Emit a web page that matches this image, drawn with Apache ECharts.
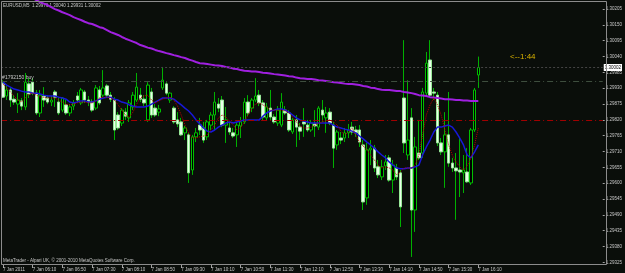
<!DOCTYPE html>
<html>
<head>
<meta charset="utf-8">
<title>EURUSD,M5</title>
<script src="https://cdn.jsdelivr.net/npm/echarts@6.0.0/dist/echarts.min.js"></script>
<style>
html, body { margin: 0; padding: 0; background: #0a0e0a; }
#chart { width: 625px; height: 273px; }
</style>
</head>
<body>
<div id="chart"></div>
<script>
// EURUSD M5 bars (one value per bar, 7 Jan 2011 05:30 .. 16:10)
const opens = [
  1.29948, 1.29903, 1.29924, 1.29892, 1.29875, 1.29886, 1.29865, 1.29945, 1.29951, 1.29913,
  1.29844, 1.29903, 1.29896, 1.29882, 1.29917, 1.29882, 1.29854, 1.29872, 1.29844, 1.29868,
  1.29903, 1.29879, 1.29917, 1.29889, 1.29882, 1.29861, 1.29924, 1.29906, 1.29938, 1.29906,
  1.29889, 1.29837, 1.29809, 1.29847, 1.29827, 1.29865, 1.29889, 1.29906, 1.29892, 1.29820,
  1.29917, 1.29861, 1.29847, 1.29931, 1.29945, 1.29889, 1.29861, 1.29820, 1.29813, 1.29775,
  1.29768, 1.29646, 1.29761, 1.29802, 1.29792, 1.29761, 1.29802, 1.29837, 1.29875, 1.29889,
  1.29802, 1.29792, 1.29775, 1.29768, 1.29799, 1.29813, 1.29882, 1.29861, 1.29889, 1.29906,
  1.29879, 1.29827, 1.29861, 1.29830, 1.29809, 1.29802, 1.29854, 1.29844, 1.29778, 1.29820,
  1.29795, 1.29813, 1.29802, 1.29785, 1.29806, 1.29795, 1.29854, 1.29827, 1.29847, 1.29802,
  1.29733, 1.29757, 1.29757, 1.29775, 1.29795, 1.29785, 1.29785, 1.29733, 1.29549, 1.29716,
  1.29722, 1.29657, 1.29622, 1.29660, 1.29688, 1.29611, 1.29653, 1.29636, 1.29896, 1.29698,
  1.29827, 1.29507, 1.29705, 1.29705, 1.29913, 1.30028, 1.29917, 1.29906, 1.29740, 1.29709,
  1.29768, 1.29670, 1.29653, 1.29646, 1.29636, 1.29639, 1.29601, 1.29785, 1.29976
];
const highs = [
  1.29958, 1.29938, 1.29934, 1.29906, 1.29913, 1.29896, 1.29983, 1.29965, 1.29965, 1.29924,
  1.29924, 1.29934, 1.29906, 1.29903, 1.29924, 1.29896, 1.29899, 1.29889, 1.29875, 1.29889,
  1.29917, 1.29931, 1.29924, 1.29903, 1.29892, 1.29941, 1.29938, 1.29993, 1.29945, 1.29917,
  1.29899, 1.29847, 1.29861, 1.29861, 1.29889, 1.29917, 1.29983, 1.29931, 1.29906, 1.29951,
  1.29931, 1.29875, 1.29872, 1.30004, 1.29951, 1.29917, 1.29868, 1.29847, 1.29827, 1.29799,
  1.29775, 1.29768, 1.29792, 1.29827, 1.29813, 1.29820, 1.29847, 1.29917, 1.29896, 1.29903,
  1.29865, 1.29813, 1.29792, 1.29813, 1.29830, 1.29896, 1.29906, 1.29896, 1.29965, 1.29924,
  1.29889, 1.29879, 1.29924, 1.29840, 1.29868, 1.29913, 1.29868, 1.29854, 1.29827, 1.29837,
  1.29809, 1.29861, 1.29820, 1.29820, 1.29854, 1.29868, 1.29889, 1.29865, 1.29861, 1.29813,
  1.29785, 1.29778, 1.29792, 1.29806, 1.29813, 1.29799, 1.29802, 1.29750, 1.29740, 1.29750,
  1.29733, 1.29681, 1.29681, 1.29698, 1.29698, 1.29681, 1.29667, 1.29646, 1.30097, 1.29958,
  1.29861, 1.29761, 1.29820, 1.29931, 1.30056, 1.30097, 1.29931, 1.29917, 1.29757, 1.29847,
  1.29917, 1.29688, 1.29705, 1.29761, 1.29698, 1.29722, 1.29792, 1.29931, 1.30040
];
const lows = [
  1.29896, 1.29889, 1.29865, 1.29872, 1.29844, 1.29854, 1.29854, 1.29896, 1.29906, 1.29837,
  1.29830, 1.29865, 1.29875, 1.29868, 1.29865, 1.29837, 1.29847, 1.29837, 1.29833, 1.29854,
  1.29879, 1.29872, 1.29879, 1.29868, 1.29847, 1.29854, 1.29872, 1.29899, 1.29899, 1.29882,
  1.29750, 1.29785, 1.29799, 1.29820, 1.29813, 1.29854, 1.29882, 1.29882, 1.29868, 1.29813,
  1.29827, 1.29830, 1.29833, 1.29924, 1.29906, 1.29879, 1.29806, 1.29795, 1.29764, 1.29750,
  1.29601, 1.29629, 1.29743, 1.29768, 1.29740, 1.29750, 1.29785, 1.29785, 1.29847, 1.29795,
  1.29740, 1.29768, 1.29757, 1.29726, 1.29757, 1.29806, 1.29833, 1.29847, 1.29882, 1.29868,
  1.29820, 1.29816, 1.29820, 1.29806, 1.29799, 1.29795, 1.29837, 1.29778, 1.29771, 1.29726,
  1.29750, 1.29761, 1.29778, 1.29778, 1.29761, 1.29785, 1.29813, 1.29775, 1.29802, 1.29653,
  1.29716, 1.29736, 1.29743, 1.29757, 1.29768, 1.29761, 1.29726, 1.29507, 1.29525, 1.29663,
  1.29639, 1.29618, 1.29611, 1.29646, 1.29605, 1.29566, 1.29611, 1.29448, 1.29705, 1.29681,
  1.29344, 1.29431, 1.29681, 1.29688, 1.29906, 1.29899, 1.29889, 1.29729, 1.29698, 1.29584,
  1.29657, 1.29639, 1.29473, 1.29552, 1.29566, 1.29601, 1.29594, 1.29778, 1.29931
];
const closes = [
  1.29899, 1.29924, 1.29889, 1.29882, 1.29889, 1.29868, 1.29951, 1.29910, 1.29913, 1.29844,
  1.29906, 1.29889, 1.29882, 1.29889, 1.29899, 1.29844, 1.29896, 1.29844, 1.29865, 1.29879,
  1.29889, 1.29924, 1.29889, 1.29882, 1.29854, 1.29931, 1.29879, 1.29931, 1.29906, 1.29892,
  1.29785, 1.29792, 1.29854, 1.29833, 1.29879, 1.29906, 1.29934, 1.29892, 1.29879, 1.29941,
  1.29837, 1.29837, 1.29858, 1.29958, 1.29913, 1.29913, 1.29813, 1.29806, 1.29768, 1.29792,
  1.29636, 1.29761, 1.29775, 1.29785, 1.29750, 1.29813, 1.29837, 1.29882, 1.29861, 1.29802,
  1.29820, 1.29778, 1.29764, 1.29802, 1.29813, 1.29882, 1.29844, 1.29889, 1.29903, 1.29879,
  1.29830, 1.29865, 1.29830, 1.29813, 1.29854, 1.29882, 1.29844, 1.29785, 1.29820, 1.29795,
  1.29781, 1.29806, 1.29785, 1.29809, 1.29799, 1.29861, 1.29837, 1.29844, 1.29809, 1.29722,
  1.29778, 1.29750, 1.29775, 1.29785, 1.29778, 1.29775, 1.29743, 1.29535, 1.29716, 1.29722,
  1.29653, 1.29629, 1.29657, 1.29674, 1.29611, 1.29663, 1.29622, 1.29518, 1.29740, 1.29750,
  1.29507, 1.29726, 1.29688, 1.29917, 1.30017, 1.29906, 1.29913, 1.29740, 1.29709, 1.29768,
  1.29670, 1.29653, 1.29643, 1.29639, 1.29646, 1.29605, 1.29785, 1.29924, 1.30002
];
// slow moving average (purple)
const maSlow = [
  1.30292, 1.30285, 1.30279, 1.30274, 1.30267, 1.30260, 1.30255, 1.30248, 1.30243, 1.30236,
  1.30229, 1.30224, 1.30219, 1.30212, 1.30205, 1.30200, 1.30194, 1.30189, 1.30184, 1.30177,
  1.30172, 1.30167, 1.30161, 1.30156, 1.30153, 1.30148, 1.30142, 1.30139, 1.30132, 1.30125,
  1.30120, 1.30115, 1.30108, 1.30102, 1.30097, 1.30092, 1.30087, 1.30080, 1.30076, 1.30071,
  1.30068, 1.30063, 1.30059, 1.30056, 1.30052, 1.30049, 1.30045, 1.30042, 1.30038, 1.30035,
  1.30030, 1.30026, 1.30021, 1.30017, 1.30016, 1.30014, 1.30012, 1.30010, 1.30009, 1.30007,
  1.30004, 1.30002, 1.29998, 1.29997, 1.29993, 1.29991, 1.29990, 1.29988, 1.29988, 1.29986,
  1.29984, 1.29983, 1.29981, 1.29979, 1.29978, 1.29976, 1.29974, 1.29972, 1.29971, 1.29967,
  1.29965, 1.29964, 1.29962, 1.29962, 1.29960, 1.29958, 1.29957, 1.29955, 1.29953, 1.29951,
  1.29950, 1.29948, 1.29946, 1.29945, 1.29945, 1.29943, 1.29941, 1.29938, 1.29936, 1.29932,
  1.29931, 1.29927, 1.29925, 1.29924, 1.29924, 1.29922, 1.29920, 1.29920, 1.29917, 1.29915,
  1.29913, 1.29910, 1.29906, 1.29905, 1.29903, 1.29899, 1.29898, 1.29896, 1.29894, 1.29892,
  1.29892, 1.29891, 1.29889, 1.29889, 1.29887, 1.29887, 1.29886, 1.29886, 1.29886
];
// medium moving average (blue)
const maBlue = [
  1.29951, 1.29941, 1.29934, 1.29927, 1.29924, 1.29920, 1.29917, 1.29917, 1.29913, 1.29913,
  1.29910, 1.29906, 1.29903, 1.29903, 1.29903, 1.29899, 1.29896, 1.29892, 1.29882, 1.29879,
  1.29882, 1.29886, 1.29886, 1.29882, 1.29882, 1.29886, 1.29892, 1.29896, 1.29899, 1.29899,
  1.29892, 1.29889, 1.29882, 1.29879, 1.29872, 1.29868, 1.29865, 1.29865, 1.29865, 1.29868,
  1.29875, 1.29882, 1.29889, 1.29896, 1.29896, 1.29896, 1.29892, 1.29882, 1.29872, 1.29861,
  1.29851, 1.29837, 1.29820, 1.29806, 1.29792, 1.29781, 1.29778, 1.29785, 1.29795, 1.29802,
  1.29809, 1.29813, 1.29809, 1.29813, 1.29816, 1.29820, 1.29820, 1.29820, 1.29820, 1.29820,
  1.29833, 1.29844, 1.29851, 1.29854, 1.29858, 1.29858, 1.29854, 1.29847, 1.29837, 1.29827,
  1.29820, 1.29816, 1.29813, 1.29809, 1.29809, 1.29809, 1.29809, 1.29809, 1.29809, 1.29802,
  1.29795, 1.29792, 1.29788, 1.29785, 1.29781, 1.29775, 1.29764, 1.29754, 1.29743, 1.29733,
  1.29722, 1.29709, 1.29698, 1.29688, 1.29674, 1.29663, 1.29653, 1.29650, 1.29650, 1.29653,
  1.29653, 1.29657, 1.29663, 1.29698, 1.29726, 1.29750, 1.29778, 1.29795, 1.29795, 1.29799,
  1.29802, 1.29795, 1.29778, 1.29757, 1.29733, 1.29698, 1.29688, 1.29709, 1.29733
];
// fast moving average (red, dotted)
const maRed = [
  1.29945, 1.29931, 1.29917, 1.29903, 1.29889, 1.29882, 1.29896, 1.29910, 1.29913, 1.29906,
  1.29899, 1.29899, 1.29896, 1.29896, 1.29896, 1.29889, 1.29882, 1.29875, 1.29872, 1.29875,
  1.29879, 1.29882, 1.29882, 1.29879, 1.29879, 1.29886, 1.29896, 1.29899, 1.29899, 1.29896,
  1.29889, 1.29872, 1.29854, 1.29837, 1.29830, 1.29847, 1.29875, 1.29896, 1.29903, 1.29906,
  1.29889, 1.29879, 1.29886, 1.29892, 1.29896, 1.29899, 1.29889, 1.29868, 1.29837, 1.29802,
  1.29775, 1.29757, 1.29757, 1.29761, 1.29764, 1.29768, 1.29785, 1.29802, 1.29827, 1.29837,
  1.29830, 1.29816, 1.29802, 1.29785, 1.29792, 1.29813, 1.29837, 1.29861, 1.29875, 1.29879,
  1.29872, 1.29865, 1.29854, 1.29854, 1.29854, 1.29854, 1.29851, 1.29844, 1.29830, 1.29813,
  1.29799, 1.29792, 1.29792, 1.29795, 1.29802, 1.29809, 1.29813, 1.29816, 1.29820, 1.29813,
  1.29802, 1.29781, 1.29768, 1.29778, 1.29792, 1.29768, 1.29743, 1.29729, 1.29716, 1.29698,
  1.29681, 1.29663, 1.29653, 1.29657, 1.29653, 1.29646, 1.29629, 1.29639, 1.29653, 1.29653,
  1.29653, 1.29663, 1.29698, 1.29768, 1.29837, 1.29872, 1.29896, 1.29872, 1.29837, 1.29785,
  1.29733, 1.29698, 1.29674, 1.29657, 1.29646, 1.29660, 1.29688, 1.29733, 1.29792
];

const emptyBars = 33; // chart shift on the right
const priceTicks = [
  1.29325, 1.29380, 1.29435, 1.29490, 1.29545, 1.29600, 1.29655, 1.29710, 1.29765,
  1.29820, 1.29875, 1.29930, 1.29985, 1.30040, 1.30095, 1.30150, 1.30205
];
const timeLabels = [
  '7 Jan 2011', '7 Jan 06:10', '7 Jan 06:50', '7 Jan 07:30', '7 Jan 08:10', '7 Jan 08:50',
  '7 Jan 09:30', '7 Jan 10:10', '7 Jan 10:50', '7 Jan 11:30', '7 Jan 12:10', '7 Jan 12:50',
  '7 Jan 13:30', '7 Jan 14:10', '7 Jan 14:50', '7 Jan 15:30', '7 Jan 16:10'
];
const bidPrice = 1.30002;
const orderPrice = 1.29955;
const stopPrice = 1.29820;

const categories = [];
for (let i = 0; i < opens.length + emptyBars; i++) categories.push(i);
// full bar for the wicks, body-only bar drawn on top of it
const candles = opens.map((o, i) => [o, closes[i], lows[i], highs[i]]);
const bodies = opens.map((o, i) => [o, closes[i], Math.min(o, closes[i]), Math.max(o, closes[i])]);

const font = 'Liberation Sans';
const textColor = '#c8c8c8';
const everyLabel = i => i % 8 === 0 && i < opens.length;

const chart = echarts.init(document.getElementById('chart'));
chart.setOption({
  animation: false,
  backgroundColor: '#0a0e0a',
  grid: { left: -1, right: 18, top: 1, bottom: 8 },
  xAxis: {
    type: 'category',
    data: categories,
    boundaryGap: true,
    axisLine: { show: false },
    splitLine: { show: false },
    axisTick: { show: true, interval: everyLabel, alignWithLabel: true, length: 3,
                lineStyle: { color: '#a0a0a0' } },
    axisLabel: {
      interval: everyLabel, align: 'left', margin: 2, fontSize: 4.5,
      fontFamily: font, color: textColor,
      formatter: (v, i) => (i % 8 === 0 && timeLabels[i / 8]) ? timeLabels[i / 8] : ''
    }
  },
  yAxis: {
    type: 'value',
    position: 'right',
    min: 1.29316,
    max: 1.30233,
    axisLine: { show: false },
    splitLine: { show: false },
    axisTick: { show: true, customValues: priceTicks, length: 2, lineStyle: { color: '#a0a0a0' } },
    axisLabel: { customValues: priceTicks, formatter: v => v.toFixed(5), margin: 3,
                 fontSize: 4.5, fontFamily: font, color: textColor }
  },
  series: [
    {
      // horizontal levels: bid, open order, stop
      type: 'line',
      data: [],
      markLine: {
        silent: true,
        precision: 5,
        symbol: ['none', 'none'],
        data: [
          { yAxis: bidPrice, lineStyle: { color: '#444444', type: [2, 2], width: 1 },
            label: { show: true, position: 'end', formatter: bidPrice.toFixed(5), distance: 1,
                     backgroundColor: '#ffffff', color: '#000000', fontSize: 4.5,
                     fontFamily: font, padding: [1, 1] } },
          { yAxis: orderPrice, lineStyle: { color: '#3e4e3e', type: [6, 3, 1, 3], width: 1 },
            label: { show: true, position: 'insideStartTop', formatter: '#1792150 buy',
                     distance: 1, color: textColor, fontSize: 5, fontFamily: font } },
          { yAxis: stopPrice, lineStyle: { color: '#a00000', type: [6, 3, 1, 3], width: 1 },
            label: { show: false } }
        ]
      }
    },
    {
      type: 'candlestick',
      data: candles,
      barWidth: 1,
      itemStyle: { color: '#00b000', borderColor: '#00b000', color0: '#00b000', borderColor0: '#00b000', borderWidth: 1 }
    },
    {
      type: 'candlestick',
      data: bodies,
      barWidth: 3,
      itemStyle: {
        color: '#000000', borderColor: '#00c000',
        color0: '#e8ffe8', borderColor0: '#98e898', borderWidth: 1
      }
    },
    { type: 'line', data: maSlow, symbol: 'none', lineStyle: { color: '#a020e0', width: 2 } },
    { type: 'line', data: maBlue, symbol: 'none', lineStyle: { color: '#1818d8', width: 1.5 } },
    { type: 'line', data: maRed, symbol: 'none', lineStyle: { color: '#b80000', width: 1, type: 'dotted' } }
  ],
  graphic: [
    { type: 'rect', silent: true, z: 10,
      shape: { x: 1.5, y: 1.5, width: 605, height: 263 },
      style: { fill: 'none', stroke: '#8c8c8c', lineWidth: 1 } },
    { type: 'text', silent: true, left: 3, top: 3,
      style: { text: 'EURUSD,M5  1.29976 1.30040 1.29931 1.30002', fill: textColor,
               fontSize: 4.5, fontFamily: font } },
    { type: 'text', silent: true, left: 510, top: 53,
      style: { text: '<--1:44', fill: '#d8b000', fontSize: 8, fontFamily: font } },
    { type: 'text', silent: true, left: 3, top: 258,
      style: { text: 'MetaTrader - Alpari UK, \u00a9 2001-2010 MetaQuotes Software Corp.',
               fill: textColor, fontSize: 4.5, fontFamily: font } }
  ]
});
</script>
</body>
</html>
